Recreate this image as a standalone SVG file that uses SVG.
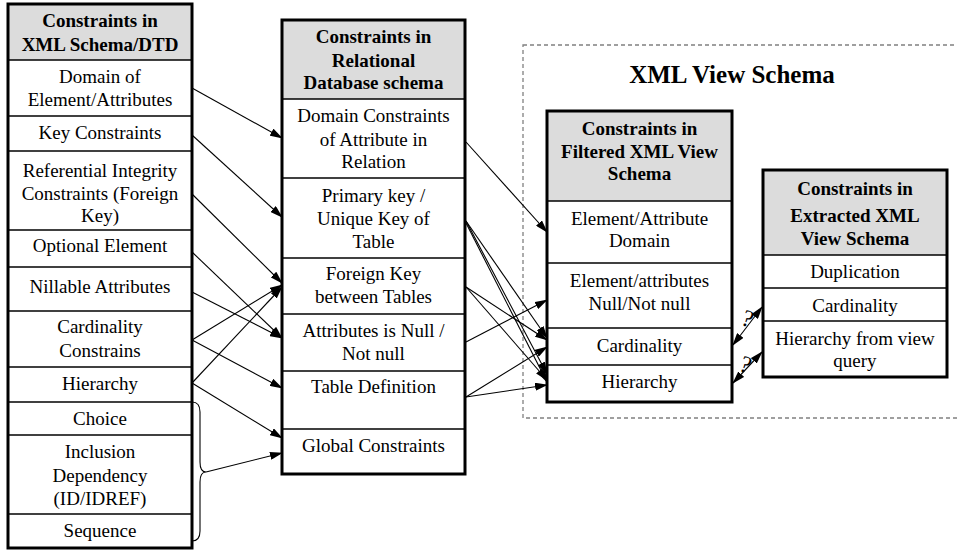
<svg xmlns="http://www.w3.org/2000/svg" width="957" height="551" viewBox="0 0 957 551">
<defs>
<marker id="ah" markerWidth="13" markerHeight="8" refX="12" refY="4" orient="auto-start-reverse" markerUnits="userSpaceOnUse">
<path d="M0,0 L13,4 L0,8 z" fill="#000"/>
</marker>
<style>
.t{font-family:"Liberation Serif","Times New Roman",serif;font-size:19px;text-anchor:middle;fill:#000}
.h{font-family:"Liberation Serif","Times New Roman",serif;font-size:19px;font-weight:bold;text-anchor:middle;fill:#000}
.q{font-family:"Liberation Serif","Times New Roman",serif;font-size:24px;text-anchor:middle;fill:#000}
.frame{fill:none;stroke:#000;stroke-width:3}
.hd{fill:#dcdcdc;stroke:none}
.dv{stroke:#000;stroke-width:1.5}
.c line,.c path{stroke:#000;stroke-width:1.1;fill:none}
.arr{marker-end:url(#ah)}
.dbl{marker-end:url(#ah);marker-start:url(#ah)}
</style>
</defs>
<rect x="0" y="0" width="957" height="551" fill="#fff"/>

<g id="xml-view-schema">
<rect x="523" y="45" width="440" height="373" fill="none" stroke="#808080" stroke-width="1.3" stroke-dasharray="4,3"/>
<text x="732" y="83" class="h" style="font-size:25px">XML View Schema</text>
</g>

<g id="xml-schema-dtd">
<rect x="8" y="4" width="184" height="56" class="hd"/>
<line x1="8" y1="60" x2="192" y2="60" class="dv"/>
<line x1="8" y1="116" x2="192" y2="116" class="dv"/>
<line x1="8" y1="151" x2="192" y2="151" class="dv"/>
<line x1="8" y1="230" x2="192" y2="230" class="dv"/>
<line x1="8" y1="267" x2="192" y2="267" class="dv"/>
<line x1="8" y1="311" x2="192" y2="311" class="dv"/>
<line x1="8" y1="367" x2="192" y2="367" class="dv"/>
<line x1="8" y1="402" x2="192" y2="402" class="dv"/>
<line x1="8" y1="435" x2="192" y2="435" class="dv"/>
<line x1="8" y1="514" x2="192" y2="514" class="dv"/>
<rect x="8" y="4" width="184" height="544" class="frame"/>
<text x="100" y="27" class="h">Constraints in</text>
<text x="100" y="51" class="h">XML Schema/DTD</text>
<text x="100" y="83" class="t">Domain of</text>
<text x="100" y="106" class="t">Element/Attributes</text>
<text x="100" y="139" class="t">Key Constraints</text>
<text x="100" y="177" class="t">Referential Integrity</text>
<text x="100" y="200" class="t">Constraints (Foreign</text>
<text x="100" y="222" class="t">Key)</text>
<text x="100" y="252" class="t">Optional Element</text>
<text x="100" y="293" class="t">Nillable Attributes</text>
<text x="100" y="333" class="t">Cardinality</text>
<text x="100" y="357" class="t">Constrains</text>
<text x="100" y="390" class="t">Hierarchy</text>
<text x="100" y="425" class="t">Choice</text>
<text x="100" y="458" class="t">Inclusion</text>
<text x="100" y="482" class="t">Dependency</text>
<text x="100" y="505" class="t">(ID/IDREF)</text>
<text x="100" y="537" class="t">Sequence</text>
</g>

<g id="relational-schema">
<rect x="282" y="20" width="183" height="79" class="hd"/>
<line x1="282" y1="99" x2="465" y2="99" class="dv"/>
<line x1="282" y1="178" x2="465" y2="178" class="dv"/>
<line x1="282" y1="258" x2="465" y2="258" class="dv"/>
<line x1="282" y1="314" x2="465" y2="314" class="dv"/>
<line x1="282" y1="371" x2="465" y2="371" class="dv"/>
<line x1="282" y1="429" x2="465" y2="429" class="dv"/>
<rect x="282" y="20" width="183" height="454" class="frame"/>
<text x="373.5" y="43" class="h">Constraints in</text>
<text x="373.5" y="67" class="h">Relational</text>
<text x="373.5" y="89" class="h">Database schema</text>
<text x="373.5" y="122" class="t">Domain Constraints</text>
<text x="373.5" y="146" class="t">of Attribute in</text>
<text x="373.5" y="168" class="t">Relation</text>
<text x="373.5" y="202" class="t">Primary key /</text>
<text x="373.5" y="225" class="t">Unique Key of</text>
<text x="373.5" y="248" class="t">Table</text>
<text x="373.5" y="280" class="t">Foreign Key</text>
<text x="373.5" y="303" class="t">between Tables</text>
<text x="373.5" y="337" class="t">Attributes is Null /</text>
<text x="373.5" y="360" class="t">Not null</text>
<text x="373.5" y="393" class="t">Table Definition</text>
<text x="373.5" y="452" class="t">Global Constraints</text>
</g>

<g id="filtered-xml-view">
<rect x="547" y="111" width="185" height="90" class="hd"/>
<line x1="547" y1="201" x2="732" y2="201" class="dv"/>
<line x1="547" y1="263" x2="732" y2="263" class="dv"/>
<line x1="547" y1="328" x2="732" y2="328" class="dv"/>
<line x1="547" y1="365" x2="732" y2="365" class="dv"/>
<rect x="547" y="111" width="185" height="291" class="frame"/>
<text x="639.5" y="135" class="h">Constraints in</text>
<text x="639.5" y="158" class="h">Filtered XML View</text>
<text x="639.5" y="180" class="h">Schema</text>
<text x="639.5" y="225" class="t">Element/Attribute</text>
<text x="639.5" y="247" class="t">Domain</text>
<text x="639.5" y="287" class="t">Element/attributes</text>
<text x="639.5" y="310" class="t">Null/Not null</text>
<text x="639.5" y="352" class="t">Cardinality</text>
<text x="639.5" y="388" class="t">Hierarchy</text>
</g>

<g id="extracted-xml-view">
<rect x="763" y="170" width="184" height="85" class="hd"/>
<line x1="763" y1="255" x2="947" y2="255" class="dv"/>
<line x1="763" y1="288" x2="947" y2="288" class="dv"/>
<line x1="763" y1="321" x2="947" y2="321" class="dv"/>
<rect x="763" y="170" width="184" height="207" class="frame"/>
<text x="855" y="195" class="h">Constraints in</text>
<text x="855" y="222" class="h">Extracted XML</text>
<text x="855" y="245" class="h">View Schema</text>
<text x="855" y="278" class="t">Duplication</text>
<text x="855" y="312" class="t">Cardinality</text>
<text x="855" y="345" class="t">Hierarchy from view</text>
<text x="855" y="367" class="t">query</text>
</g>

<g id="connectors" class="c">
<line x1="192" y1="88" x2="282" y2="138" class="arr"/>
<line x1="192" y1="135" x2="282" y2="217" class="arr"/>
<line x1="192" y1="194" x2="282" y2="283" class="arr"/>
<line x1="192" y1="252" x2="282" y2="338" class="arr"/>
<line x1="192" y1="292" x2="282" y2="338" class="arr"/>
<line x1="192" y1="340" x2="282" y2="285" class="arr"/>
<line x1="192" y1="340" x2="282" y2="388" class="arr"/>
<line x1="192" y1="383" x2="282" y2="287" class="arr"/>
<line x1="192" y1="383" x2="282" y2="438" class="arr"/>
<path d="M192,402 Q200,402 200,412 L200,462 Q200,472 206,472 Q200,472 200,482 L200,531 Q200,541 192,541"/>
<line x1="206" y1="472" x2="282" y2="453" class="arr"/>
<line x1="466" y1="142" x2="547" y2="232" class="arr"/>
<line x1="466" y1="221" x2="547" y2="338" class="arr"/>
<line x1="466" y1="221" x2="547" y2="374" class="arr"/>
<line x1="466" y1="223" x2="547" y2="382" class="arr"/>
<line x1="466" y1="287" x2="547" y2="340" class="arr"/>
<line x1="466" y1="287" x2="547" y2="380" class="arr"/>
<line x1="466" y1="342" x2="547" y2="300" class="arr"/>
<line x1="466" y1="397" x2="547" y2="347" class="arr"/>
<line x1="466" y1="397" x2="547" y2="385" class="arr"/>
<line x1="762" y1="307" x2="733" y2="345" class="dbl"/>
<line x1="762" y1="352" x2="733" y2="383" class="dbl"/>
<text x="0" y="0" class="q" transform="translate(745,326) rotate(20)">?</text>
<text x="0" y="0" class="q" transform="translate(743,372) rotate(20)">?</text>
</g>
</svg>
